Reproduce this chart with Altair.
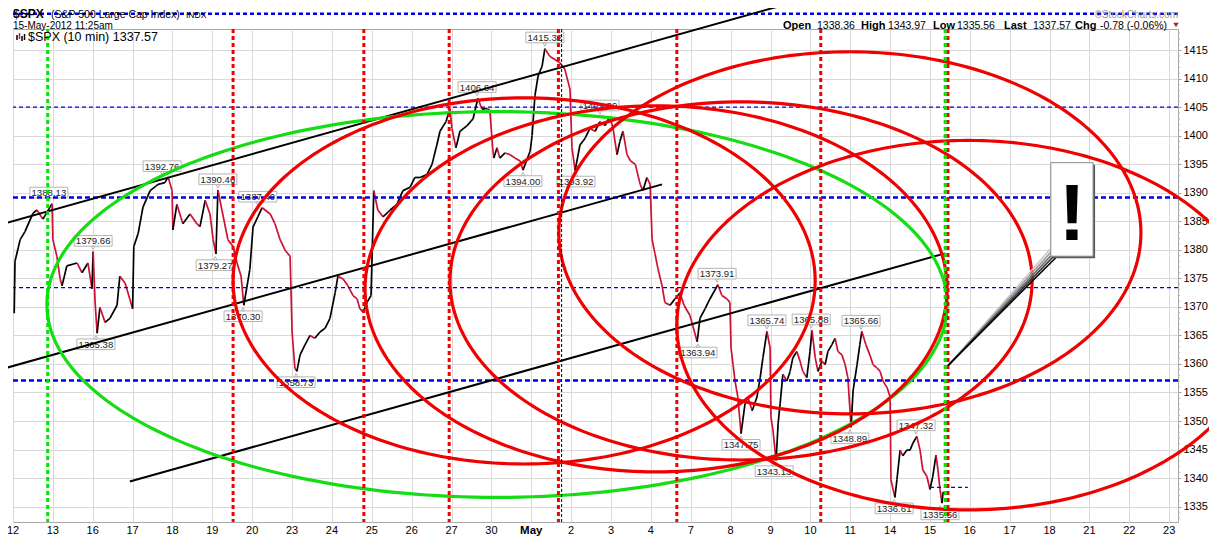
import altair as alt
import numpy as np
import pandas as pd

# ---------------- data ----------------
day_labels = ["12", "13", "16", "17", "18", "19", "20", "23", "24", "25", "26", "27",
              "30", "May", "2", "3", "4", "7", "8", "9", "10", "11", "14", "15",
              "16", "17", "18", "21", "22", "23"]

# 10-minute price path (x = trading-day position, 0 = 12 Apr open)
price_t = [0.03, 0.05, 0.18, 0.30, 0.50, 0.60, 0.75, 0.93, 0.98, 1.00, 1.10, 1.18, 1.23, 1.35,
           1.61, 1.73, 1.88, 1.98, 2.01, 2.06, 2.11, 2.18, 2.31, 2.43, 2.61, 2.68, 2.81, 2.93,
           3.00, 3.03, 3.14, 3.26, 3.44, 3.64, 3.81, 3.89, 3.99, 4.01, 4.11, 4.26, 4.44, 4.61,
           4.69, 4.82, 4.94, 5.02, 5.09, 5.14, 5.24, 5.39, 5.52, 5.62, 5.72, 5.79, 5.94, 6.02,
           6.14, 6.25, 6.45, 6.57, 6.70, 6.82, 6.95, 7.00, 7.07, 7.12, 7.20, 7.32, 7.45, 7.57,
           7.70, 7.83, 7.95, 8.08, 8.15, 8.28, 8.40, 8.53, 8.63, 8.70, 8.78, 8.88, 8.98, 9.05,
           9.15, 9.28, 9.46, 9.63, 9.78, 9.96, 10.08, 10.21, 10.38, 10.51, 10.63, 10.71, 10.86,
           10.96, 11.01, 11.11, 11.21, 11.39, 11.54, 11.66, 11.76, 11.89, 11.96, 12.03, 12.06,
           12.14, 12.21, 12.34, 12.47, 12.59, 12.72, 12.79, 12.97, 13.02, 13.09, 13.17, 13.27,
           13.34, 13.47, 13.59, 13.72, 13.84, 13.97, 14.02, 14.10, 14.22, 14.35, 14.47, 14.60,
           14.72, 14.85, 14.97, 15.05, 15.15, 15.22, 15.30, 15.40, 15.49, 15.61, 15.73, 15.80,
           15.90, 15.98, 16.03, 16.10, 16.18, 16.28, 16.35, 16.48, 16.60, 16.73, 16.83, 16.98,
           17.16, 17.23, 17.36, 17.48, 17.68, 17.78, 17.91, 17.98, 18.01, 18.06, 18.11, 18.18,
           18.26, 18.36, 18.43, 18.54, 18.66, 18.74, 18.81, 18.91, 18.99, 19.01, 19.06, 19.14,
           19.19, 19.24, 19.31, 19.41, 19.49, 19.56, 19.66, 19.74, 19.81, 19.91, 19.99, 20.04,
           20.12, 20.19, 20.29, 20.37, 20.44, 20.54, 20.62, 20.69, 20.79, 20.87, 20.94, 21.02,
           21.07, 21.17, 21.24, 21.29, 21.39, 21.49, 21.57, 21.67, 21.75, 21.82, 21.92, 22.00,
           22.02, 22.12, 22.17, 22.25, 22.32, 22.42, 22.50, 22.57, 22.67, 22.75, 22.82, 22.92,
           23.00, 23.07, 23.15, 23.20, 23.25, 23.30, 23.33]
price_v = [1368.9, 1378.0, 1381.8, 1383.2, 1386.4, 1387.0, 1385.4, 1387.5, 1388.1, 1381.8, 1378.9,
           1375.0, 1373.7, 1377.2, 1377.7, 1376.0, 1377.7, 1373.2, 1379.7, 1370.7, 1365.4, 1369.9,
           1367.3, 1368.0, 1370.3, 1375.4, 1374.2, 1371.4, 1369.7, 1380.6, 1382.9, 1387.5, 1390.4,
           1391.5, 1391.8, 1392.8, 1390.4, 1383.5, 1388.0, 1384.6, 1386.3, 1384.6, 1384.1, 1388.7,
           1386.3, 1381.8, 1379.3, 1390.5, 1387.0, 1381.8, 1380.6, 1377.7, 1375.4, 1370.3, 1376.6,
           1384.0, 1385.8, 1387.4, 1386.3, 1384.6, 1381.8, 1380.0, 1378.9, 1365.6, 1359.3, 1358.7,
           1361.6, 1363.3, 1365.0, 1364.5, 1365.6, 1366.3, 1368.0, 1372.5, 1375.4, 1374.9, 1373.7,
           1372.0, 1371.4, 1369.7, 1369.1, 1370.8, 1372.0, 1390.4, 1387.0, 1385.8, 1387.0, 1388.0,
           1390.4, 1391.0, 1392.7, 1392.7, 1393.2, 1395.0, 1398.4, 1400.8, 1402.5, 1404.7, 1401.3,
           1397.9, 1400.8, 1401.8, 1403.0, 1406.6, 1404.7, 1404.8, 1404.5, 1398.0, 1396.1, 1397.9,
           1396.1, 1397.0, 1396.7, 1396.1, 1395.6, 1394.0, 1397.3, 1400.1, 1407.0, 1410.5, 1412.2,
           1415.3, 1413.9, 1413.4, 1412.8, 1411.7, 1408.2, 1397.9, 1393.9, 1398.4, 1399.6, 1401.3,
           1400.8, 1402.5, 1401.8, 1403.4, 1401.3, 1396.7, 1399.0, 1400.8, 1396.7, 1395.6, 1395.0,
           1391.5, 1390.4, 1392.7, 1391.5, 1381.8, 1379.4, 1376.6, 1373.7, 1370.8, 1370.3, 1371.4,
           1372.5, 1370.3, 1368.5, 1363.9, 1368.0, 1369.7, 1371.4, 1373.9, 1372.0, 1371.4, 1370.8,
           1362.8, 1359.9, 1357.0, 1354.2, 1347.8, 1353.0, 1354.2, 1351.8, 1354.2, 1357.6, 1361.1,
           1365.7, 1362.8, 1350.7, 1348.4, 1343.1, 1349.5, 1353.0, 1358.2, 1357.0, 1358.7, 1361.1,
           1362.2, 1360.5, 1358.7, 1357.6, 1362.2, 1365.9, 1361.1, 1358.7, 1360.5, 1359.9, 1362.2,
           1363.4, 1364.5, 1362.2, 1361.6, 1359.9, 1357.6, 1348.9, 1355.3, 1359.9, 1363.4, 1365.7,
           1363.4, 1361.6, 1359.9, 1359.3, 1358.7, 1357.0, 1355.9, 1354.2, 1339.7, 1336.6, 1339.7,
           1344.9, 1343.9, 1344.9, 1344.9, 1346.1, 1347.3, 1344.9, 1341.4, 1340.3, 1338.0, 1340.3,
           1344.0, 1341.4, 1338.0, 1335.6, 1337.6]

# swing-point labels
label_t = [0.90, 2.01, 2.08, 3.74, 5.14, 5.07, 5.77, 6.14, 7.10, 11.64, 13.34, 12.79, 14.12,
           14.72, 17.66, 17.18, 18.91, 20.02, 21.27, 18.26, 19.09, 20.99, 22.65, 22.10, 23.25]
label_v = [1388.13, 1379.66, 1365.38, 1392.76, 1390.46, 1379.27, 1370.30, 1387.40, 1358.73,
           1406.64, 1415.32, 1394.00, 1393.92, 1403.39, 1373.91, 1363.94, 1365.74, 1365.88,
           1365.66, 1347.75, 1343.13, 1348.89, 1347.32, 1336.61, 1335.56]
label_side = ["hi", "hi", "lo", "hi", "hi", "lo", "lo", "hi", "lo", "hi", "hi", "lo", "lo",
              "hi", "hi", "lo", "hi", "hi", "hi", "lo", "lo", "lo", "hi", "lo", "lo"]

green_vlines = [0.87, 23.38]
red_vlines = [5.52, 8.80, 10.94, 13.68, 16.65, 20.26, 23.45]
black_vlines = [13.76]

thick_hlines = [1389.2, 1357.1]
thin_hlines = [1405.05, 1373.4]
top_hline = [1421.4]
open_level = [1338.36]
open_span = [23.0, 23.95]

trend_t1 = [-0.33, -0.33, 2.93]
trend_p1 = [1384.4, 1359.0, 1339.4]
trend_t2 = [19.56, 16.28, 23.38]
trend_p2 = [1423.4, 1391.5, 1379.4]

ell_ct = [12.14, 12.82, 16.13, 18.26, 20.99, 23.95]
ell_cp = [1370.43, 1374.56, 1373.18, 1374.56, 1383.0, 1366.8]
ell_a = [11.29, 7.30, 7.30, 7.30, 7.30, 7.30]
ell_b = [33.82, 32.1, 32.1, 31.4, 31.75, 32.4]
ell_kind = ["green", "red", "red", "red", "red", "red"]

callout_box_t = [26.03, 27.09]
callout_box_p = [1378.9, 1395.3]
callout_tip = [23.45, 1359.7]
callout_base_t = [26.01, 26.19]
callout_base_p = [1380.1, 1378.9]
callout_mark = [26.56, 1381.8]

header_names = ["Open", "High", "Low", "Last", "Chg"]
header_vals = ["1338.36", "1343.97", "1335.56", "1337.57", "-0.78 (-0.06%)"]

# ---------------- layout / style ----------------
W, H = 1165, 493
X_DOMAIN = [0, 29.22]
Y_DOMAIN = [1332.29, 1418.74]
FONT = "Liberation Sans"
RED = "#f00000"
GREEN = "#16dc16"
BLUE = "#0000e6"

x_axis = alt.Axis(values=list(range(len(day_labels))), labels=False, ticks=False,
                  domain=False, grid=True, gridColor="#d9d9d9", title=None)
y_axis = alt.Axis(orient="right", values=list(range(1335, 1416, 5)), format="d", grid=True,
                  gridColor="#d9d9d9", domain=False, ticks=True, tickSize=3,
                  tickColor="#a0a0a0", labelPadding=2, labelFontSize=11,
                  labelColor="#000000", labelFont=FONT, title=None)


def xq(field):
    return alt.X(field, type="quantitative",
                 scale=alt.Scale(domain=X_DOMAIN, nice=False, zero=False), axis=x_axis)


def yq(field):
    return alt.Y(field, type="quantitative",
                 scale=alt.Scale(domain=Y_DOMAIN, nice=False, zero=False), axis=y_axis)


ONE = pd.DataFrame({"a": [0]})


def txt(x, y, s, size=11, weight="normal", color="#000000", align="left",
        baseline="alphabetic", font=FONT):
    return alt.Chart(ONE).mark_text(text=s, fontSize=size, fontWeight=weight, color=color,
                                    align=align, baseline=baseline, font=font).encode(
        x=alt.value(x), y=alt.value(y))


# ---------------- price ----------------
pdf = pd.DataFrame({"t": price_t, "p": price_v})
pdf["t2"] = pdf["t"].shift(-1)
pdf["p2"] = pdf["p"].shift(-1)
pdf = pdf.dropna()
pdf["dir"] = np.where(pdf["p2"] >= pdf["p"], "up", "down")

price = alt.Chart(pdf).mark_rule(strokeWidth=1.7, clip=True).encode(
    x=xq("t"), y=yq("p"), x2="t2", y2="p2",
    color=alt.Color("dir:N", scale=alt.Scale(domain=["up", "down"],
                                             range=["#000000", "#cc1133"]), legend=None))

# minor ticks on price axis
minor = pd.DataFrame({"p": [v for v in range(1333, 1419) if v % 5 != 0]})
minor_ticks = alt.Chart(minor).mark_rule(color="#b0b0b0", strokeWidth=1).encode(
    y=yq("p"), x=alt.value(W), x2=alt.value(W + 2))

# ---------------- swing labels ----------------
ldf = pd.DataFrame({"t": label_t, "v": label_v, "side": label_side})
BOX = "M-1,-0.28L1,-0.28L1,0.28L-1,0.28Z"
label_layers = []
for side, off, tri in [("hi", -11, "triangle-down"), ("lo", 11, "triangle-up")]:
    d = ldf[ldf["side"] == side]
    base = alt.Chart(d)
    label_layers.append(base.mark_point(shape=BOX, size=1444, filled=True, fill="white",
                                        fillOpacity=1, stroke="#b4b4b4", strokeWidth=1,
                                        opacity=1, yOffset=off, clip=False).encode(
        x=xq("t"), y=yq("v")))
    label_layers.append(base.mark_point(shape=tri, size=14, filled=True, fill="white",
                                        fillOpacity=1, stroke="#b4b4b4", strokeWidth=1,
                                        opacity=1, yOffset=off * 0.36).encode(
        x=xq("t"), y=yq("v")))
    label_layers.append(base.mark_text(fontSize=9.6, font=FONT, color="#222222",
                                       baseline="middle", dy=off + 0.5).encode(
        x=xq("t"), y=yq("v"), text=alt.Text("v:Q", format=".2f")))

# ---------------- horizontal lines ----------------
thin_h = alt.Chart(pd.DataFrame({"p": thin_hlines})).mark_rule(
    color=BLUE, strokeWidth=1.2, strokeDash=[4, 3]).encode(y=yq("p"))
thick_h = alt.Chart(pd.DataFrame({"p": thick_hlines})).mark_rule(
    color=BLUE, strokeWidth=2.5, strokeDash=[5, 3]).encode(y=yq("p"))
top_h = alt.Chart(pd.DataFrame({"p": top_hline})).mark_rule(
    color=BLUE, strokeWidth=2.5, strokeDash=[4, 3], clip=False).encode(y=yq("p"))
open_h = alt.Chart(pd.DataFrame({"p": open_level, "t": [open_span[0]], "t2": [open_span[1]]})
                   ).mark_rule(color=BLUE, strokeWidth=1.2, strokeDash=[4, 3]).encode(
    y=yq("p"), x=xq("t"), x2="t2")

# ---------------- trend channel ----------------
tdf = pd.DataFrame({"t": trend_t1, "p": trend_p1, "t2": trend_t2, "p2": trend_p2})
trend = alt.Chart(tdf).mark_rule(color="#000000", strokeWidth=2, clip=False).encode(
    x=xq("t"), y=yq("p"), x2="t2", y2="p2")

# ---------------- ellipses ----------------
theta = np.linspace(0, 2 * np.pi, 241)
rows = []
for k in range(len(ell_ct)):
    for i, th in enumerate(theta):
        rows.append({"id": k, "i": i, "kind": ell_kind[k],
                     "t": ell_ct[k] + ell_a[k] * np.cos(th),
                     "p": ell_cp[k] + ell_b[k] * np.sin(th)})
edf = pd.DataFrame(rows)
ell_layers = []
for kind, col in [("green", GREEN), ("red", RED)]:
    ell_layers.append(alt.Chart(edf[edf["kind"] == kind]).mark_line(
        color=col, strokeWidth=3.2, clip=False).encode(
        x=xq("t"), y=yq("p"), detail="id:N", order="i:Q"))

# ---------------- vertical cycle lines ----------------
v_red = alt.Chart(pd.DataFrame({"t": red_vlines})).mark_rule(
    color=RED, strokeWidth=3, strokeDash=[4, 3]).encode(x=xq("t"))
v_green = alt.Chart(pd.DataFrame({"t": green_vlines})).mark_rule(
    color="#00e600", strokeWidth=3, strokeDash=[4, 3]).encode(x=xq("t"))
v_black = alt.Chart(pd.DataFrame({"t": black_vlines})).mark_rule(
    color="#000000", strokeWidth=1, strokeDash=[3, 2]).encode(x=xq("t"))

# ---------------- callout ----------------
fr = np.linspace(0, 1, 5)
cdf = pd.DataFrame({
    "t": [callout_tip[0]] * 5, "p": [callout_tip[1]] * 5,
    "t2": callout_base_t[0] + fr * (callout_base_t[1] - callout_base_t[0]),
    "p2": callout_base_p[0] + fr * (callout_base_p[1] - callout_base_p[0]),
    "c": ["#c8c8c8", "#9a9a9a", "#6a6a6a", "#353535", "#000000"]})
pointer = alt.Chart(cdf).mark_rule(strokeWidth=1.6, clip=False).encode(
    x=xq("t"), y=yq("p"), x2="t2", y2="p2", color=alt.Color("c:N", scale=None))
bdf = pd.DataFrame({"t": [callout_box_t[0]], "t2": [callout_box_t[1]],
                    "p": [callout_box_p[0]], "p2": [callout_box_p[1]]})
box_shadow = alt.Chart(bdf).mark_rect(fill="#5a5a5a", xOffset=2, x2Offset=2, yOffset=2,
                                      y2Offset=2, clip=False).encode(
    x=xq("t"), x2="t2", y=yq("p"), y2="p2")
box = alt.Chart(bdf).mark_rect(fill="white", stroke="#8a8a8a", strokeWidth=1,
                               clip=False).encode(x=xq("t"), x2="t2", y=yq("p"), y2="p2")
bang = alt.Chart(pd.DataFrame({"t": [callout_mark[0]], "p": [callout_mark[1]]})).mark_text(
    text="!", fontSize=80, fontWeight="bold", font=FONT, color="#000000", align="center",
    baseline="alphabetic", clip=False).encode(x=xq("t"), y=yq("p"))

# ---------------- x labels ----------------
xl = pd.DataFrame({"t": list(range(len(day_labels))), "lab": day_labels})
xl_norm = alt.Chart(xl[xl["lab"] != "May"]).mark_text(
    fontSize=11, font=FONT, color="#000000", baseline="alphabetic").encode(
    x=xq("t"), y=alt.value(H + 12), text="lab:N")
xl_bold = alt.Chart(xl[xl["lab"] == "May"]).mark_text(
    fontSize=11.5, font=FONT, fontWeight="bold", color="#000000", baseline="alphabetic").encode(
    x=xq("t"), y=alt.value(H + 12), text="lab:N")

# ---------------- header texts ----------------
texts = [
    txt(0, -11, "$SPX", size=12, weight="bold"),
    txt(38, -11, "(S&P 500 Large Cap Index)", size=10.5),
    txt(173, -11, "INDX", size=8.5),
    txt(0, 0, "15-May-2012 11:25am", size=10),
    txt(W, -11.5, "\u00a9StockCharts.com", size=10, color="#9a9a9a", align="right"),
    txt(15, 12, "$SPX (10 min) " + header_vals[3], size=12.5),
]
name_x = [770, 848, 920, 991, 1062]
val_x = [804, 875, 944, 1020, 1087]
for nm, vl, nx, vx in zip(header_names, header_vals, name_x, val_x):
    texts.append(txt(nx, 0, nm, size=11, weight="bold"))
    texts.append(txt(vx, 0, vl, size=10.5))
tri = alt.Chart(ONE).mark_point(shape="triangle-down", size=30, filled=True,
                                color="#b02828", opacity=1).encode(
    x=alt.value(1163), y=alt.value(-4))
# small legend glyph (bar icon)
glyph = []
for gx, gy, gy2, gc in [(4, 6, 11, "#000000"), (6.5, 4, 10, "#cc1133"),
                        (9, 7, 12, "#000000"), (11.5, 5, 11, "#000000")]:
    glyph.append(alt.Chart(ONE).mark_rule(color=gc, strokeWidth=1.5).encode(
        x=alt.value(gx), y=alt.value(gy), y2=alt.value(gy2)))

layers = ([price, minor_ticks] + label_layers +
          [thin_h, thick_h, top_h, open_h, trend] + ell_layers +
          [v_black, v_red, v_green, pointer, box_shadow, box, bang, xl_norm, xl_bold] +
          texts + [tri] + glyph)

chart = alt.layer(*layers).properties(
    width=W, height=H,
    padding={"left": 5, "top": 21, "right": 31, "bottom": 15},
    autosize=alt.AutoSizeParams(type="none"),
    background="white",
).configure_view(stroke="#a8a8a8", strokeWidth=1)

chart.save("out.html", embed_options={"renderer": "svg", "actions": False})
